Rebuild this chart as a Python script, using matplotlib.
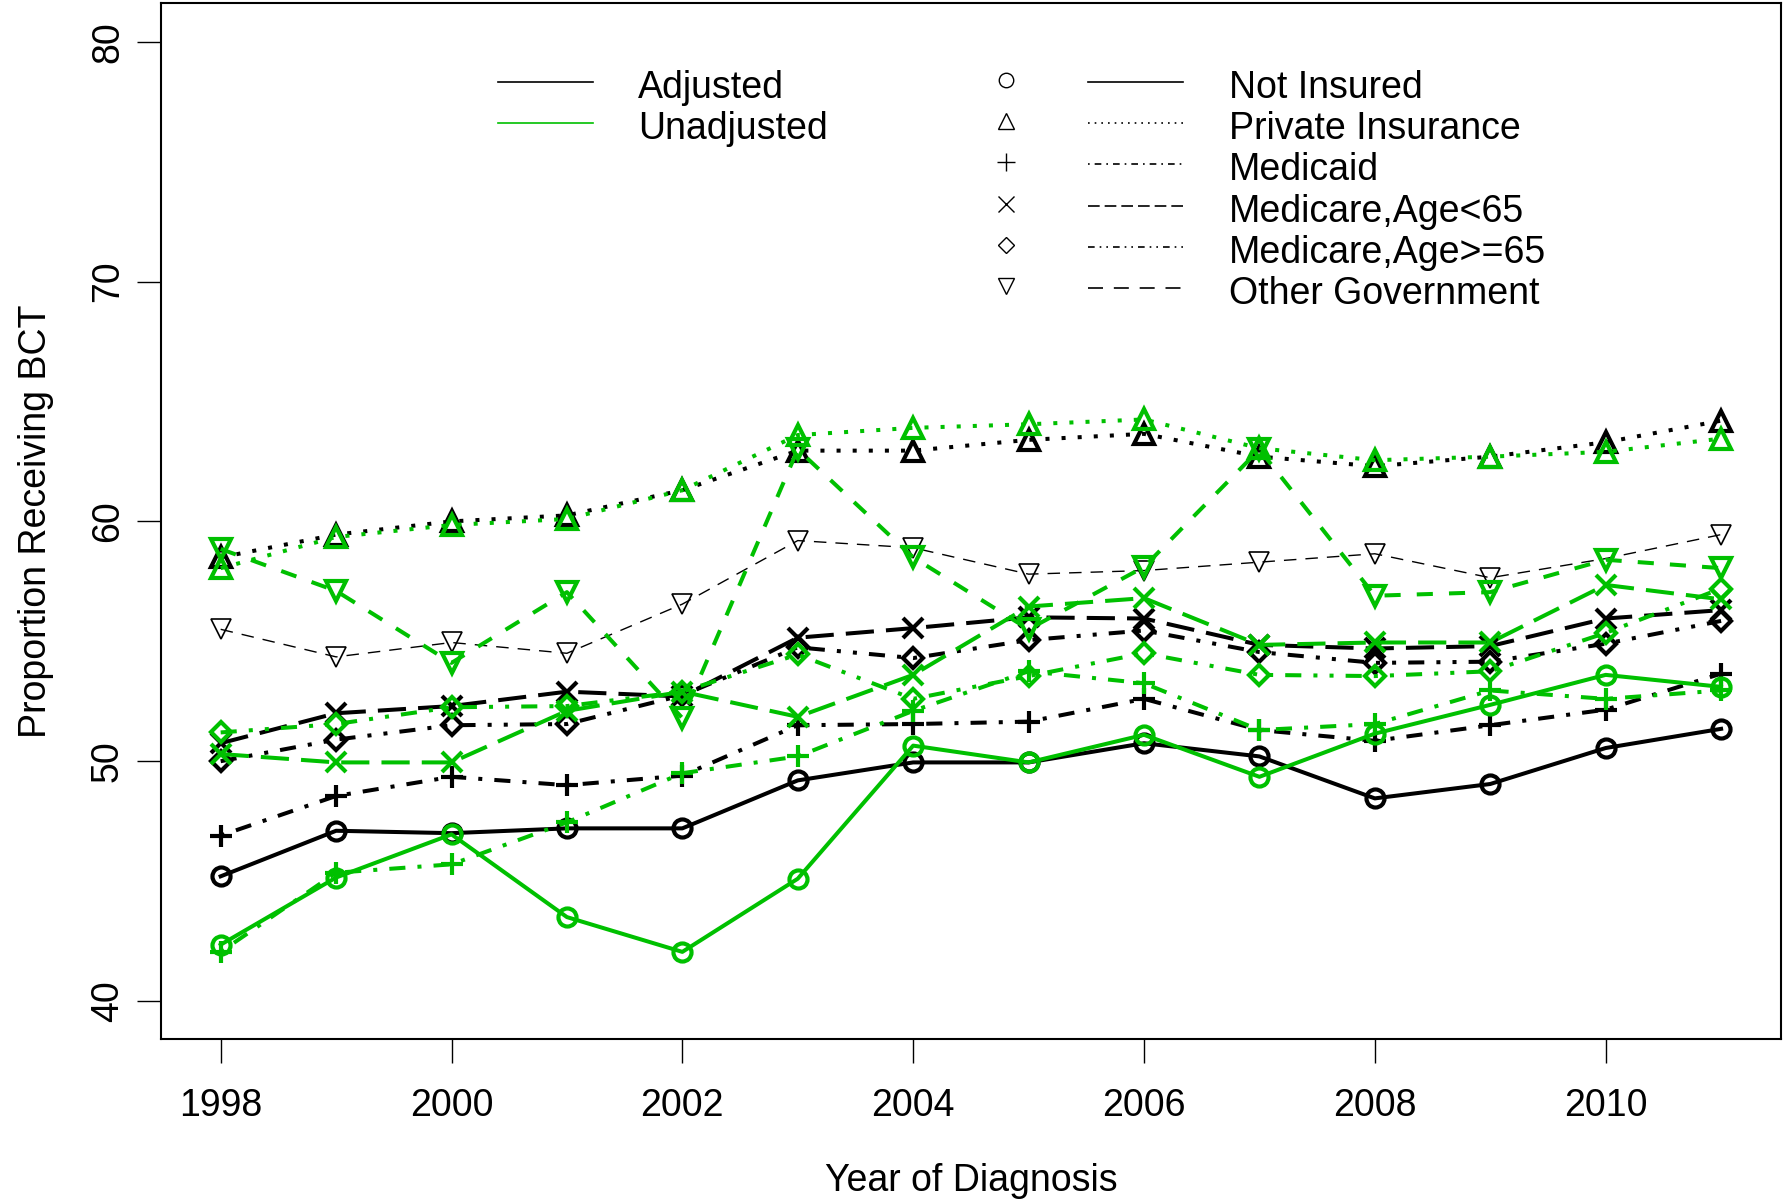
import matplotlib
matplotlib.use("Agg")
import matplotlib.pyplot as plt

plt.rcParams['font.family'] = ['Liberation Sans', 'DejaVu Sans']

years = list(range(1998, 2012))

# adjusted (black)
adj_not_insured = [45.2, 47.1, 47.0, 47.2, 47.2, 49.2, 49.95, 49.95, 50.75, 50.2, 48.45, 49.05, 50.55, 51.35]
adj_private = [58.5, 59.45, 60.0, 60.25, 61.3, 62.95, 62.95, 63.4, 63.65, 62.7, 62.3, 62.7, 63.3, 64.2]
adj_medicaid = [46.9, 48.55, 49.35, 49.0, 49.4, 51.5, 51.55, 51.65, 52.6, 51.3, 50.85, 51.5, 52.15, 53.65]
adj_medicare_lt65 = [50.75, 52.0, 52.3, 52.9, 52.7, 55.15, 55.55, 56.0, 55.95, 54.85, 54.7, 54.8, 55.95, 56.3]
adj_medicare_ge65 = [50.0, 50.9, 51.5, 51.55, 52.75, 54.75, 54.3, 55.05, 55.45, 54.55, 54.1, 54.15, 54.9, 55.85]
adj_other_gov = [55.5, 54.35, 54.95, 54.5, 56.55, 59.2, 58.9, 57.8, 57.95, 58.3, 58.65, 57.65, 58.45, 59.45]

# unadjusted (green)
unadj_not_insured = [42.35, 45.15, 46.95, 43.5, 42.05, 45.1, 50.65, 49.95, 51.1, 49.35, 51.15, 52.35, 53.6, 53.1]
unadj_private = [58.05, 59.35, 59.85, 60.1, 61.3, 63.6, 63.9, 64.05, 64.25, 63.05, 62.55, 62.7, 62.9, 63.45]
unadj_medicaid = [42.05, 45.35, 45.7, 47.45, 49.5, 50.2, 52.1, 53.75, 53.25, 51.3, 51.55, 52.95, 52.6, 52.95]
unadj_medicare_lt65 = [50.3, 49.95, 49.95, 52.1, 52.9, 51.85, 53.6, 56.45, 56.8, 54.85, 54.95, 54.95, 57.35, 56.75]
unadj_medicare_ge65 = [51.2, 51.55, 52.25, 52.3, 52.9, 54.45, 52.6, 53.55, 54.5, 53.6, 53.55, 53.75, 55.35, 57.2]
unadj_other_gov = [58.85, 57.1, 54.1, 57.05, 51.8, 63.0, 58.5, 55.5, 58.1, 63.0, 56.9, 57.05, 58.4, 58.05]

groups = ['Not Insured', 'Private Insurance', 'Medicaid', 'Medicare,Age<65',
          'Medicare,Age>=65', 'Other Government']
markers = ['o', '^', '+', 'x', 'D', 'v']
dashes = ['-', (0, (1, 3)), (0, (1, 3, 4, 3)), (0, (7, 3)),
          (0, (4, 3, 1, 3, 1, 3)), (0, (4, 4))]
msizes = [13, 15, 16, 14, 10, 15]

adjusted = [adj_not_insured, adj_private, adj_medicaid, adj_medicare_lt65,
            adj_medicare_ge65, adj_other_gov]
unadjusted = [unadj_not_insured, unadj_private, unadj_medicaid, unadj_medicare_lt65,
              unadj_medicare_ge65, unadj_other_gov]

green = '#00C000'

fig = plt.figure(figsize=(17.87, 11.99), dpi=100)
ax = fig.add_axes([0.0899, 0.1331, 0.9068, 0.8641])

for i, vals in enumerate(adjusted):
    if groups[i] == 'Other Government':
        # this one is drawn thin in the original
        ax.plot(years, vals, color='black', linestyle=(0, (9, 6.5)), lw=1.0,
                marker=markers[i], ms=msizes[i], mfc='none', mew=1.2)
    else:
        ax.plot(years, vals, color='black', linestyle=dashes[i], lw=2.9,
                marker=markers[i], ms=msizes[i], mfc='none', mew=3.0)

for i, vals in enumerate(unadjusted):
    ax.plot(years, vals, color=green, linestyle=dashes[i], lw=2.9,
            marker=markers[i], ms=msizes[i], mfc='none', mew=3.0)

ax.set_xlim(1997.48, 2011.52)
ax.set_ylim(38.4, 81.6)
ax.set_xticks(range(1998, 2011, 2))
ax.set_yticks(range(40, 81, 10))
ax.tick_params(axis='both', direction='out', length=17, width=1.0, labelsize=27)
ax.tick_params(axis='x', pad=18)
ax.tick_params(axis='y', pad=8)
for lab in ax.get_yticklabels():
    lab.set_rotation(90)
    lab.set_va('center')
for sp in ax.spines.values():
    sp.set_linewidth(1.5)

ax.set_xlabel('Year of Diagnosis', fontsize=27, labelpad=28)
ax.set_ylabel('Proportion Receiving BCT', fontsize=27, labelpad=26)

# legends (drawn in axes fraction)
def frac_y(row, shift=0.0):
    return 1 - (79.8 + 41.3 * row + shift - 3.4) / 1036.0

def frac_x(px):
    return (px - 160.7) / 1620.3

for row, (label, col) in enumerate([('Adjusted', 'black'), ('Unadjusted', green)]):
    ax.plot([frac_x(498), frac_x(593)], [frac_y(row, 2)] * 2, color=col, lw=1.2,
            transform=ax.transAxes)
    ax.text(frac_x(638), frac_y(row, 8), label, transform=ax.transAxes,
            fontsize=27, va='center')

for row, label in enumerate(groups):
    ax.plot([frac_x(1006)], [frac_y(row, 0)], color='black', marker=markers[row],
            ms=msizes[row] * 0.8, mfc='none', mew=1.0, transform=ax.transAxes)
    ls = (0, (9, 6.5)) if label == 'Other Government' else dashes[row]
    ax.plot([frac_x(1088), frac_x(1183)], [frac_y(row, 2)] * 2, color='black', lw=1.2,
            linestyle=ls, transform=ax.transAxes)
    ax.text(frac_x(1229), frac_y(row, 8), label, transform=ax.transAxes,
            fontsize=27, va='center')

fig.savefig('out.png', dpi=100)
